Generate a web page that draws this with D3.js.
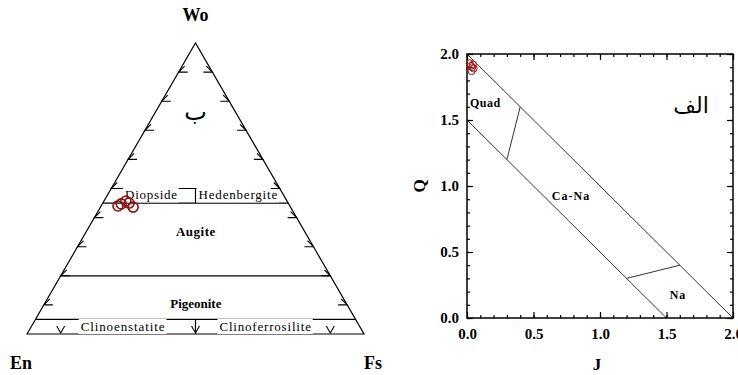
<!DOCTYPE html>
<html>
<head>
<meta charset="utf-8">
<script src="https://d3js.org/d3.v7.min.js"></script>
<style>
  body { margin: 0; background: #fff; }
  text { font-family: "Liberation Serif", "Times New Roman", serif; fill: #000; }
</style>
</head>
<body>
<svg id="chart" width="738" height="375"></svg>
<script>
  // pyroxene samples, Wo-En-Fs (mol %)
  var sampleWo = [44.0, 44.7, 45.7, 45.0, 43.6];
  var sampleFs = [5.0, 5.6, 6.5, 7.8, 9.7];

  // Q-J plot
  var sampleJ = [0.02, 0.03, 0.04, 0.035, 0.045, 0.05];
  var sampleQ = [1.93, 1.91, 1.90, 1.87, 1.92, 1.89];

  var triTicks = [10, 20, 30, 40, 50, 60, 70, 80, 90];
  var baseTicks = [10, 50, 90];
  var qjMajor = [0, 0.5, 1.0, 1.5, 2.0];

  // field boundaries in ternary coords [wo, fs]
  var triLines = [
    [[50, 0], [50, 50]],
    [[45, 0], [45, 55]],
    [[20, 0], [20, 80]],
    [[5, 0], [5, 95]],
    [[50, 25], [45, 27.5]],
    [[5, 47.5], [0, 50]]
  ];
  // field boundaries in J-Q coords
  var qjLines = [
    [[0, 2], [2, 0]],
    [[0, 1.5], [1.5, 0]],
    [[0.3, 1.2], [0.4, 1.6]],
    [[1.2, 0.3], [1.6, 0.4]]
  ];

  var svg = d3.select("#chart");

  // ---------- ternary ----------
  var tx = d3.scaleLinear().domain([0, 100]).range([27, 364]);
  var ty = d3.scaleLinear().domain([0, 100]).range([334, 43]);
  function px(wo, fs) { return tx(fs + wo / 2); }
  function py(wo) { return ty(wo); }

  var tri = svg.append("g");

  tri.append("path")
    .attr("d", "M" + px(0, 0) + "," + py(0) + "L" + px(100, 0) + "," + py(100) + "L" + px(0, 100) + "," + py(0) + "Z")
    .attr("fill", "none").attr("stroke", "#000").attr("stroke-width", 1.2);

  triLines.forEach(function(l) {
    tri.append("line")
      .attr("x1", px(l[0][0], l[0][1])).attr("y1", py(l[0][0]))
      .attr("x2", px(l[1][0], l[1][1])).attr("y2", py(l[1][0]))
      .attr("stroke", "#000").attr("stroke-width", 1.2);
  });

  // labels with white backing (they hide the lines behind)
  var fieldLabels = [
    {t: "Diopside", wo: 47.8, fs: 13.0, size: 13, ls: 0.7, w: "normal"},
    {t: "Hedenbergite", wo: 47.8, fs: 38.8, size: 13, ls: 0.8, w: "normal"},
    {t: "Augite", wo: 35.4, fs: 32.4, size: 13, ls: 0.5, w: "bold"},
    {t: "Pigeonite", wo: 10.6, fs: 44.8, size: 13, ls: 0, w: "bold"},
    {t: "Clinoenstatite", wo: 2.6, fs: 27.2, size: 13, ls: 0.9, w: "normal"},
    {t: "Clinoferrosilite", wo: 2.6, fs: 69.5, size: 13, ls: 0.8, w: "normal"}
  ];
  fieldLabels.forEach(function(d) {
    var t = tri.append("text")
      .attr("x", px(d.wo, d.fs)).attr("y", py(d.wo))
      .attr("dy", "0.35em")
      .attr("text-anchor", "middle")
      .style("font-size", d.size + "px")
      .style("font-weight", d.w)
      .style("letter-spacing", d.ls + "px")
      .text(d.t);
    if (d.w === "normal") {
      var b = t.node().getBBox();
      tri.insert("rect", "text")
        .attr("x", b.x - 2).attr("y", b.y)
        .attr("width", b.width + 3).attr("height", b.height)
        .attr("fill", "#fff");
    }
  });

  // edge ticks
  triTicks.forEach(function(w) {
    var lx = px(w, 0), rx = px(w, 100 - w), yy = py(w);
    tri.append("path")
      .attr("d", "M" + (lx + 9) + "," + yy + "L" + lx + "," + yy + "L" + (lx + 6) + "," + (yy - 6))
      .attr("fill", "none").attr("stroke", "#000").attr("stroke-width", 1.1);
    tri.append("path")
      .attr("d", "M" + (rx - 9) + "," + yy + "L" + rx + "," + yy + "L" + (rx - 6) + "," + (yy - 6))
      .attr("fill", "none").attr("stroke", "#000").attr("stroke-width", 1.1);
  });
  baseTicks.forEach(function(f) {
    var bx = px(0, f), by = py(0) - 1;
    tri.append("path")
      .attr("d", "M" + (bx - 4) + "," + (by - 7) + "L" + bx + "," + by + "L" + (bx + 4) + "," + (by - 7))
      .attr("fill", "none").attr("stroke", "#000").attr("stroke-width", 1.1);
  });

  tri.selectAll(".pt")
    .data(sampleWo)
    .enter().append("circle")
      .attr("cx", function(d, i) { return px(d, sampleFs[i]); })
      .attr("cy", function(d) { return py(d); })
      .attr("r", 5)
      .attr("fill", "none")
      .attr("stroke", "#8b1010")
      .attr("stroke-width", 1.6);

  tri.append("text").attr("x", px(100, 0)).attr("y", 21).attr("text-anchor", "middle")
    .style("font-size", "18px").style("font-weight", "bold").text("Wo");
  tri.append("text").attr("x", 10).attr("y", 369)
    .style("font-size", "18px").style("font-weight", "bold").text("En");
  tri.append("text").attr("x", 364).attr("y", 369)
    .style("font-size", "18px").style("font-weight", "bold").text("Fs");
  tri.append("text").attr("x", px(100, 0)).attr("y", 120).attr("text-anchor", "middle")
    .style("font-family", "'DejaVu Sans', sans-serif")
    .style("font-size", "24px").text("ب");

  // ---------- Q-J ----------
  var x = d3.scaleLinear().domain([0, 2]).range([467, 733]);
  var y = d3.scaleLinear().domain([0, 2]).range([318, 54]);
  var minor = d3.range(0, 2.001, 0.1);

  var qj = svg.append("g");

  qjLines.forEach(function(l) {
    qj.append("line")
      .attr("x1", x(l[0][0])).attr("y1", y(l[0][1]))
      .attr("x2", x(l[1][0])).attr("y2", y(l[1][1]))
      .attr("stroke", "#333").attr("stroke-width", 1);
  });

  function styleAxis(g) {
    g.select(".domain").remove();
    g.selectAll(".tick line").attr("stroke", "#000").attr("stroke-width", 1.2);
    g.selectAll(".tick text")
      .style("font-family", "'Liberation Serif', serif")
      .style("font-size", "15px").style("font-weight", "bold");
  }

  qj.append("g").attr("transform", "translate(0," + y(0) + ")")
    .call(d3.axisBottom(x).tickValues(minor).tickSize(-3).tickFormat(""))
    .call(styleAxis);
  qj.append("g").attr("transform", "translate(0," + y(0) + ")")
    .call(d3.axisBottom(x).tickValues(qjMajor).tickSize(-6).tickPadding(10).tickFormat(d3.format(".1f")))
    .call(styleAxis);
  qj.append("g").attr("transform", "translate(0," + y(2) + ")")
    .call(d3.axisTop(x).tickValues(minor).tickSize(-3).tickFormat(""))
    .call(styleAxis);
  qj.append("g").attr("transform", "translate(0," + y(2) + ")")
    .call(d3.axisTop(x).tickValues(qjMajor).tickSize(-6).tickFormat(""))
    .call(styleAxis);
  qj.append("g").attr("transform", "translate(" + x(0) + ",0)")
    .call(d3.axisLeft(y).tickValues(minor).tickSize(-3).tickFormat(""))
    .call(styleAxis);
  qj.append("g").attr("transform", "translate(" + x(0) + ",0)")
    .call(d3.axisLeft(y).tickValues(qjMajor).tickSize(-6).tickPadding(8).tickFormat(d3.format(".1f")))
    .call(styleAxis);
  qj.append("g").attr("transform", "translate(" + x(2) + ",0)")
    .call(d3.axisRight(y).tickValues(minor).tickSize(-3).tickFormat(""))
    .call(styleAxis);
  qj.append("g").attr("transform", "translate(" + x(2) + ",0)")
    .call(d3.axisRight(y).tickValues(qjMajor).tickSize(-6).tickFormat(""))
    .call(styleAxis);

  qj.append("rect")
    .attr("x", x(0)).attr("y", y(2))
    .attr("width", x(2) - x(0)).attr("height", y(0) - y(2))
    .attr("fill", "none").attr("stroke", "#000").attr("stroke-width", 1.5);

  qj.selectAll(".pt")
    .data(sampleJ)
    .enter().append("circle")
      .attr("cx", function(d) { return x(d); })
      .attr("cy", function(d, i) { return y(sampleQ[i]); })
      .attr("r", 3.5)
      .attr("fill", "none")
      .attr("stroke", "#a01818")
      .attr("stroke-width", 1);

  qj.append("text").attr("x", 470).attr("y", 107)
    .style("font-size", "12px").style("font-weight", "bold").style("letter-spacing", "0.5px").text("Quad");
  qj.append("text").attr("x", 571).attr("y", 200).attr("text-anchor", "middle")
    .style("font-size", "12px").style("font-weight", "bold").style("letter-spacing", "1px").text("Ca-Na");
  qj.append("text").attr("x", 678).attr("y", 299).attr("text-anchor", "middle")
    .style("font-size", "12px").style("font-weight", "bold").style("letter-spacing", "1px").text("Na");
  qj.append("text").attr("x", 691).attr("y", 113).attr("text-anchor", "middle")
    .style("font-family", "'DejaVu Sans', sans-serif")
    .style("font-size", "22px").text("الف");

  qj.append("text").attr("transform", "translate(425,186) rotate(-90)").attr("text-anchor", "middle")
    .style("font-size", "17px").style("font-weight", "bold").text("Q");
  qj.append("text").attr("x", 597).attr("y", 370).attr("text-anchor", "middle")
    .style("font-size", "17px").style("font-weight", "bold").text("J");
</script>
</body>
</html>
